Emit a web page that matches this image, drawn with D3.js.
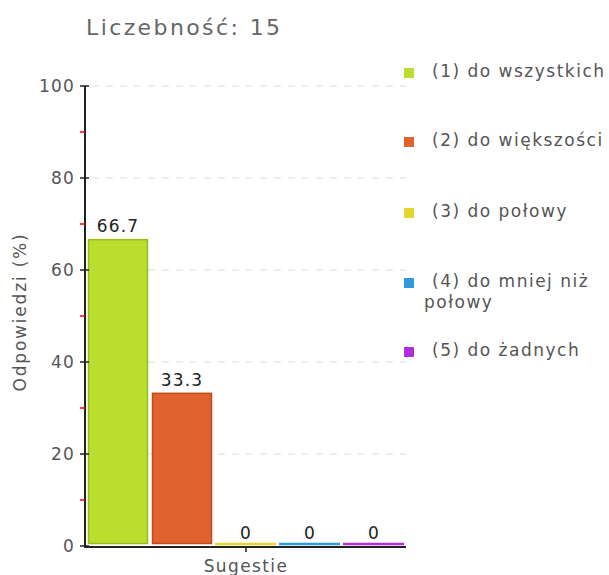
<!DOCTYPE html>
<html><head><meta charset="utf-8">
<script src="https://cdn.jsdelivr.net/npm/d3@7"></script>
<style>
body{margin:0;background:#fff;}
text{font-family:"DejaVu Sans",Verdana,sans-serif;}
</style></head>
<body><svg id="c" width="609" height="575"></svg>
<script>
const title = "Liczebność: 15";
const categories = ["(1) do wszystkich","(2) do większości","(3) do połowy","(4) do mniej niż połowy","(5) do żadnych"];
const legendLines = [["(1) do wszystkich"],["(2) do większości"],["(3) do połowy"],["(4) do mniej niż","połowy"],["(5) do żadnych"]];
const values = [66.7, 33.3, 0, 0, 0];
const valueLabels = ["66.7","33.3","0","0","0"];
const colors = ["#bade2e","#e0622e","#e5d52e","#2e9be0","#b12fe0"];
const strokes = ["#98bc1a","#c24a1a","#c9b81a","#1a7fc2","#921ac2"];
const yTicks = [0,20,40,60,80,100];
const yMinor = [10,30,50,70,90];
const xLabel = "Sugestie";
const yLabel = "Odpowiedzi (%)";

const svg = d3.select("#c");
const y = d3.scaleLinear().domain([0,100]).range([546,86]);
const x = d3.scaleBand().domain(categories).range([86,406]).paddingInner(0).paddingOuter(0);

// title
svg.append("text").attr("x",86).attr("y",35).attr("font-size",22).attr("fill","#666").attr("letter-spacing",2.4).text(title);

// gridlines
svg.selectAll(".grid").data(yTicks.filter(d=>d>0)).join("line")
  .attr("x1",92).attr("x2",406).attr("y1",d=>y(d)).attr("y2",d=>y(d))
  .attr("stroke","#ddd").attr("stroke-dasharray","7,7").attr("stroke-width",1);

// bars
const g = svg.append("g");
values.forEach((v,i)=>{
  const bx = x(categories[i]);
  const bw = x.bandwidth();
  if (v>0){
    g.append("rect").attr("x",bx+2.5).attr("y",y(v)+0.5).attr("width",bw-5).attr("height",y(0)-3-y(v))
      .attr("fill",colors[i]).attr("stroke",strokes[i]).attr("stroke-width",1.5);
  } else {
    g.append("line").attr("x1",bx+1).attr("x2",bx+bw-2).attr("y1",y(0)-2).attr("y2",y(0)-2)
      .attr("stroke",colors[i]).attr("stroke-width",2.5);
  }
  g.append("text").attr("x",bx+bw/2).attr("y",y(v)-7).attr("text-anchor","middle")
    .attr("font-size",17).attr("fill","#222").attr("letter-spacing",1.2).text(valueLabels[i]);
});

// y axis
svg.append("line").attr("x1",85).attr("x2",85).attr("y1",y(100)).attr("y2",y(0)+1).attr("stroke","#222").attr("stroke-width",2);
svg.selectAll(".yt").data(yTicks).join("line").attr("x1",80).attr("x2",89).attr("y1",d=>y(d)).attr("y2",d=>y(d)).attr("stroke","#222").attr("stroke-width",1.5);
svg.selectAll(".ym").data(yMinor).join("line").attr("x1",80).attr("x2",85).attr("y1",d=>y(d)).attr("y2",d=>y(d)).attr("stroke","#f00").attr("stroke-width",1.5);
svg.selectAll(".yl").data(yTicks).join("text").attr("x",75).attr("y",d=>y(d)+6).attr("text-anchor","end")
  .attr("font-size",17).attr("fill","#555").attr("letter-spacing",1.2).text(d=>d);

// x axis
svg.append("line").attr("x1",84).attr("x2",406).attr("y1",y(0)+1).attr("y2",y(0)+1).attr("stroke","#222").attr("stroke-width",2);
svg.append("line").attr("x1",246).attr("x2",246).attr("y1",y(0)).attr("y2",y(0)+6).attr("stroke","#222").attr("stroke-width",1.5);
svg.append("text").attr("x",246).attr("y",572).attr("text-anchor","middle").attr("font-size",17).attr("fill","#555").attr("letter-spacing",1.4).text(xLabel);
svg.append("text").attr("transform","translate(26,312) rotate(-90)").attr("text-anchor","middle").attr("font-size",17).attr("fill","#555").attr("letter-spacing",1.8).text(yLabel);

// legend
const legY = [73,142,213,283,352];
legendLines.forEach((lines,i)=>{
  svg.append("rect").attr("x",404).attr("y",legY[i]-5).attr("width",10).attr("height",10).attr("fill",colors[i]);
  lines.forEach((t,j)=>{
    svg.append("text").attr("x",j===0?432:424).attr("y",legY[i]+4+j*21).attr("font-size",17).attr("fill","#555")
      .attr("letter-spacing",1.5).text(t);
  });
});
</script></body></html>
